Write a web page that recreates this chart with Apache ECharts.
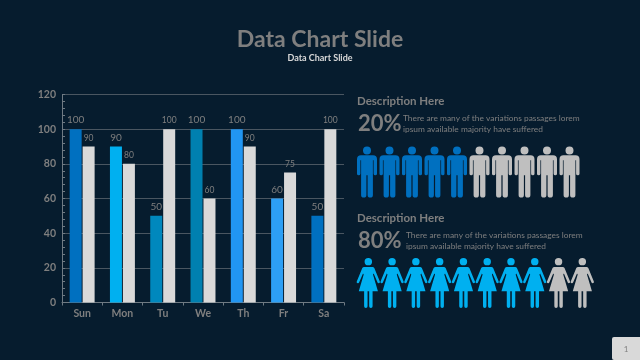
<!DOCTYPE html>
<html><head><meta charset="utf-8">
<style>html,body{margin:0;padding:0;background:#061c2e}#c{width:640px;height:360px}</style>
<script src="https://cdn.jsdelivr.net/npm/echarts@6/dist/echarts.min.js"></script>
</head><body><div id="c"></div>
<script>
const categories = ['Sun','Mon','Tu','We','Th','Fr','Sa'];
const primaryValues = [100,90,50,100,100,60,50];
const secondaryValues = [90,80,100,60,90,75,100];
const primaryColors = ['#0070c0','#00b0f0','#0088bd','#0080b0','#2196f3','#2d9ff5','#0070c0'];
const yTicks = {min:0,max:120,interval:20};
const menTotal = 10, menHighlighted = 5;
const womenTotal = 10, womenHighlighted = 8;
const heading = 'Data Chart Slide';
const blockTitle = 'Description Here';
const blockLine1 = 'There are many of the variations passages lorem';
const blockLine2 = 'ipsum available majority have suffered';
const manPath = 'path://M10 0A4 4 0 1 1 10 8A4 4 0 1 1 10 0ZM4 8.8H16Q20 8.8 20 12.8V27.5A1.7 1.7 0 0 1 16.6 27.5V14H15.9V49A2.3 2.3 0 0 1 10.6 49V29H9.4V49A2.3 2.3 0 0 1 4.1 49V14H3.4V27.5A1.7 1.7 0 0 1 0 27.5V12.8Q0 8.8 4 8.8Z';
const womanPath = 'path://M11.67 0A3.7 3.7 0 1 1 11.67 7.4A3.7 3.7 0 1 1 11.67 0ZM7.5 9H15.8Q17 9 17.6 10L23.1 23.5A1.3 1.3 0 0 1 20.8 24.7L17 15.5L16.3 16.5L21.2 33.3H15.9V48.5A1.7 1.7 0 0 1 12.5 48.5V33.3H10.9V48.5A1.7 1.7 0 0 1 7.5 48.5V33.3H2.2L7.1 16.5L6.4 15.5L2.5 24.7A1.3 1.3 0 0 1 0.2 23.5L5.7 10Q6.3 9 7.5 9Z';
const F='Lato', G='#7f7f7f', L='#4a5661';
const range = (a,b)=>{const r=[];for(let i=a;i<b;i++)r.push([i,0.5]);return r;};
const txt=(x,y,text,size,weight,fill,align)=>({type:'text',x,y,style:{text,font:`${weight} ${size}px ${F}`,fill,textAlign:align||'left',textVerticalAlign:'middle'}});
const hiddenAxis=(gridIndex,max)=>({type:'value',gridIndex,min:0,max,show:false});
const chart=echarts.init(document.getElementById('c'),null,{renderer:'canvas'});
chart.setOption({
 animation:false,backgroundColor:'#061c2e',
 grid:[
  {left:62,top:94.5,width:282,height:208},
  {left:367,top:146.5,width:202.5,height:51},
  {left:368.3,top:258,width:214,height:50}
 ],
 xAxis:[
  {type:'category',data:categories,gridIndex:0,axisLine:{lineStyle:{color:'#6f7a83'}},axisTick:{show:true,length:3,lineStyle:{color:'#6f7a83'}},axisLabel:{color:G,fontFamily:F,fontWeight:'bold',fontSize:10.5,margin:6}},
  hiddenAxis(1,9),hiddenAxis(2,9)
 ],
 yAxis:[
  {type:'value',gridIndex:0,min:yTicks.min,max:yTicks.max,interval:yTicks.interval,
   axisLine:{show:true,lineStyle:{color:'#6f7a83'}},axisTick:{show:true,inside:true,length:3,lineStyle:{color:'#6f7a83'}},
   minorTick:{show:true,splitNumber:5,length:3,lineStyle:{color:'#6f7a83'}},
   splitLine:{lineStyle:{color:L}},axisLabel:{color:G,fontFamily:F,fontWeight:'bold',fontSize:10.5,margin:6}},
  hiddenAxis(1,1),hiddenAxis(2,1)
 ],
 series:[
  {type:'bar',xAxisIndex:0,yAxisIndex:0,barWidth:12,barGap:'8%',
   data:primaryValues.map((v,i)=>({value:v,itemStyle:{color:primaryColors[i]}})),
   label:{show:true,position:'top',distance:4,color:G,fontFamily:F,fontSize:10,fontWeight:'normal'}},
  {type:'bar',xAxisIndex:0,yAxisIndex:0,barWidth:12,
   data:secondaryValues,itemStyle:{color:'#d9d9d9'},
   label:{show:true,position:'top',distance:4,color:G,fontFamily:F,fontSize:8.5,fontWeight:'normal'}},
  {type:'scatter',xAxisIndex:1,yAxisIndex:1,symbol:manPath,symbolSize:[20,51],itemStyle:{color:'#0070c0',opacity:1},data:range(0,menHighlighted),silent:true},
  {type:'scatter',xAxisIndex:1,yAxisIndex:1,symbol:manPath,symbolSize:[20,51],itemStyle:{color:'#bfbfbf',opacity:1},data:range(menHighlighted,menTotal),silent:true},
  {type:'scatter',xAxisIndex:2,yAxisIndex:2,symbol:womanPath,symbolSize:[23.3,50],itemStyle:{color:'#00b0f0',opacity:1},data:range(0,womenHighlighted),silent:true},
  {type:'scatter',xAxisIndex:2,yAxisIndex:2,symbol:womanPath,symbolSize:[23.3,50],itemStyle:{color:'#bfbfbf',opacity:1},data:range(womenHighlighted,womenTotal),silent:true}
 ],
 graphic:[
  txt(320,40,heading,23,'bold',G,'center'),
  txt(320,58,heading,9,'bold','#d9d9d9','center'),
  txt(357,101,blockTitle,11.5,'bold',G),
  txt(358,124,'20%',22,'bold',G),
  txt(403,118,blockLine1,8.4,'normal',G),
  txt(403,129,blockLine2,8.4,'normal',G),
  txt(357,218,blockTitle,11.5,'bold',G),
  txt(358,241,'80%',22,'bold',G),
  txt(406,235,blockLine1,8.4,'normal',G),
  txt(406,246,blockLine2,8.4,'normal',G),
  {type:'rect',shape:{x:612,y:337,width:28,height:23,r:[2,0,0,2]},style:{fill:'#d9d9d9'}},
  txt(626,349,'1',8,'normal','#7f7f7f','center')
 ]
});
</script></body></html>
